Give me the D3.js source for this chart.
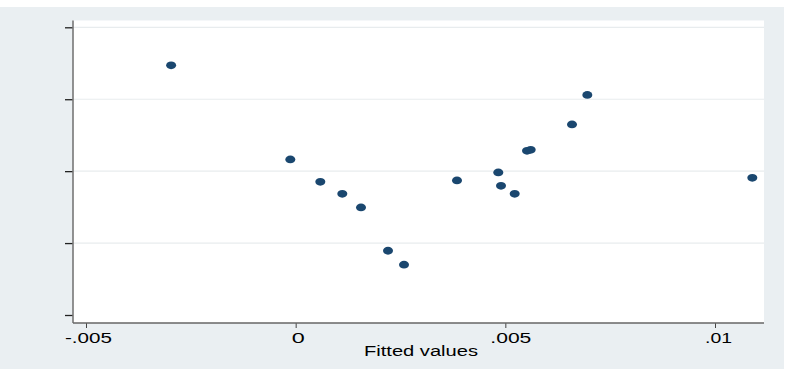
<!DOCTYPE html>
<html>
<head>
<meta charset="utf-8">
<script src="https://cdn.jsdelivr.net/npm/d3@7"></script>
<style>
  body { margin: 0; background: #fff; }
  svg { display: block; }
  text { font-family: "Liberation Sans", Arial, sans-serif; fill: #000; }
</style>
</head>
<body>
<svg width="787" height="370"></svg>
<script>
// fitted values (x) and residual-type values (y, unlabelled axis)
const fitted = [-0.00297, -0.000128, 0.000588, 0.001112, 0.001558, 0.002202, 0.002584,
    0.003847, 0.004832, 0.004897, 0.005223, 0.005517, 0.005605, 0.00659, 0.006955, 0.01089]
const yvals = [3.472, 2.163, 1.851, 1.685, 1.496, 0.893, 0.699,
    1.871, 1.982, 1.796, 1.685, 2.282, 2.296, 2.649, 3.060, 1.907]
const xTicks = [-0.005, 0, 0.005, 0.01]
const xTickLabels = ['-.005', '0', '.005', '.01']
const yTicks = [0, 1, 2, 3, 4]
const xTitle = 'Fitted values'

// the labels in the original are stretched wide
const labelWidth = [47, 13, 41, 27]
const labelShift = [2, 2, 5, 3]

const svg = d3.select('svg')

// graph region
svg.append('rect')
    .attr('x', 0).attr('y', 7)
    .attr('width', 784).attr('height', 362)
    .attr('fill', '#eaeff2')

const plot = { left: 73, right: 764, top: 20.5, bottom: 323 }

svg.append('rect')
    .attr('x', plot.left).attr('y', plot.top)
    .attr('width', plot.right - plot.left).attr('height', plot.bottom - plot.top)
    .attr('fill', '#fff')

const x = d3.scaleLinear()
    .domain([-0.005, 0.01])
    .range([86, 715])

const y = d3.scaleLinear()
    .domain([0, 4])
    .range([315, 27.3])

// grid
svg.append('g')
    .selectAll('line')
    .data(yTicks.slice(1))
    .enter().append('line')
        .attr('x1', plot.left).attr('x2', plot.right)
        .attr('y1', d => y(d)).attr('y2', d => y(d))
        .attr('stroke', '#e8ecee')
        .attr('stroke-width', 1.2)

// y axis, no labels
const yAxis = svg.append('g')
    .attr('transform', `translate(${plot.left},0)`)
    .call(d3.axisLeft(y).tickValues(yTicks).tickSize(8).tickFormat(''))
yAxis.select('.domain').remove()
yAxis.selectAll('line').attr('stroke', '#222').attr('stroke-width', 1.3)
svg.append('line')
    .attr('x1', plot.left).attr('x2', plot.left)
    .attr('y1', plot.top).attr('y2', plot.bottom)
    .attr('stroke', '#777').attr('stroke-width', 1.6)

// x axis
const xAxis = svg.append('g')
    .attr('transform', `translate(0,${plot.bottom})`)
    .call(d3.axisBottom(x).tickValues(xTicks).tickSize(5).tickFormat((d, i) => xTickLabels[i]))
xAxis.select('.domain').remove()
xAxis.selectAll('line').attr('stroke', '#444').attr('stroke-width', 1)
xAxis.selectAll('text')
    .attr('y', 9)
    .attr('dy', '0.71em')
    .attr('dx', (d, i) => labelShift[i])
    .attr('textLength', (d, i) => labelWidth[i])
    .attr('lengthAdjust', 'spacingAndGlyphs')
    .attr('fill', '#000')
    .style('font-size', '15px')
svg.append('line')
    .attr('x1', plot.left).attr('x2', plot.right)
    .attr('y1', plot.bottom).attr('y2', plot.bottom)
    .attr('stroke', '#666').attr('stroke-width', 1.6)

svg.append('text')
    .attr('x', 421)
    .attr('y', 356)
    .attr('text-anchor', 'middle')
    .attr('textLength', 114)
    .attr('lengthAdjust', 'spacingAndGlyphs')
    .style('font-size', '14px')
    .text(xTitle)

// points
svg.append('g')
    .selectAll('ellipse')
    .data(fitted)
    .enter().append('ellipse')
        .attr('cx', d => x(d))
        .attr('cy', (d, i) => y(yvals[i]))
        .attr('rx', 5)
        .attr('ry', 3.9)
        .attr('fill', '#1a476f')
</script>
</body>
</html>
